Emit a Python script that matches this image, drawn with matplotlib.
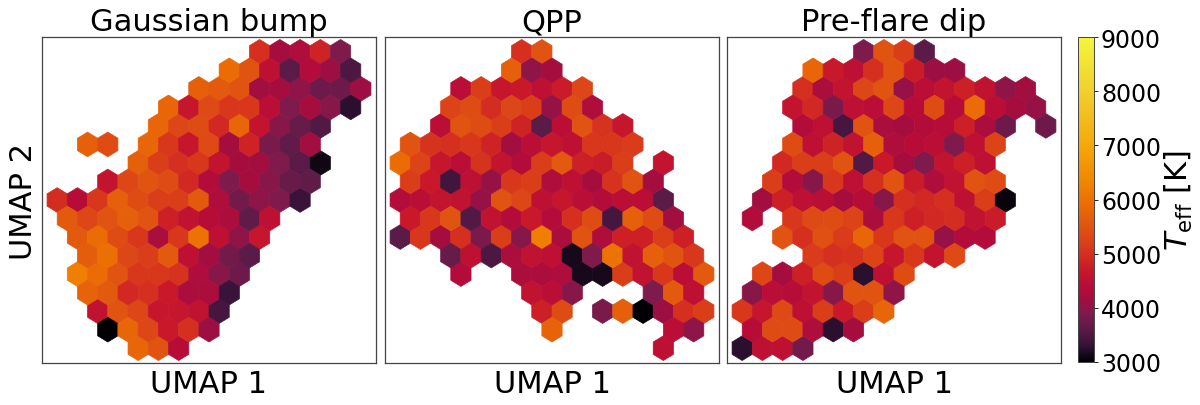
import numpy as np
import matplotlib
matplotlib.use('Agg')
import matplotlib.pyplot as plt
from matplotlib.colors import LinearSegmentedColormap, Normalize

titles = ['Gaussian bump', 'QPP', 'Pre-flare dip']
cbar_ticks = [3000, 4000, 5000, 6000, 7000, 8000, 9000]

# first filled column of each hex row (top row first), in half cell steps
gauss_first = [20, 17, 14, 11, 10, 3, 8, 5, 0, 1, 2, 3, 2, 3, 4, 5, 8]
# mean Teff per hex, row by row from the top, None = empty cell
gauss_teff = [
    [5000, 4200, 4300, 4850, 3900],
    [5900, 5500, 4500, 3600, 4350, 4100, 3500],
    [5700, 5600, 5500, 4150, 4200, 4000, 3750, 3750, 4100],
    [5800, 4650, 5350, 5100, 5100, 4450, 3900, 4200, 3950, 3250],
    [5800, 5300, 5400, 4900, 5800, 4600, 3950, 3700, 3550],
    [5700, 5400, None, 5800, 5100, 4650, 5350, 4200, 4850, 3850, 3650, 4150],
    [5700, 5200, 5000, 5100, 4600, 4200, 4150, 3900, 3600, 3100],
    [4600, 5300, 5500, 5400, 4900, 4350, 3900, 4200, 3950, 3700, 3650],
    [4950, 4400, 5100, 5700, 5400, 5200, 5200, 5600, 4300, 3800, 4000, 3900, 3350],
    [5600, 5300, 5500, 5700, 5500, 4800, 4550, 4400, 4250, 3650, 4500],
    [5600, 5900, 5400, 5100, 4250, 5100, 6000, 4500, 4000, 4650],
    [5650, 5950, 5300, 5200, 5600, 4500, 4150, 3800, 3600],
    [6200, 5900, 5500, 5100, 5100, 5050, 4300, 3950, 3750],
    [5750, 5600, 4900, 5000, 4700, 4250, 4250, 3350],
    [4550, 5500, 5300, 4650, 4650, 4550, 3450],
    [3000, 5800, 5300, 4700, 5000, 4100],
    [5800, 5500, 4400],
]

qpp_first = [12, 11, 6, 5, 4, 1, 0, 1, 0, 1, 0, 5, 6, 13, 14, 15, 26]
qpp_teff = [
    [5000, 5500],
    [5700, 4000, 4200],
    [4450, 5200, 4650, 4700, 4500, 4750, 5300],
    [5250, 5400, 4950, 5300, 5200, 4050, 5400, 4300],
    [4450, 5500, 5400, 5200, 4850, 3600, 4450, 5500, 5050, 4650],
    [5500, 5050, 5000, 5100, 4850, 4150, 4450, 4650, 4500, 5100, 5100, 5150],
    [5900, 5250, 4650, 4450, 5050, 4600, 4350, 5200, 5600, 4800, 4750, 5200, None, 4600],
    [5200, 4700, 3400, 4500, 4050, 5100, 5200, 4300, 4500, 4200, 5050, 5500, 4200],
    [4350, 4450, 4600, 4550, 4050, 5500, 5300, 4500, 4650, 4450, 4350, 4450, 4450, 3600],
    [4700, 5100, 5500, 3550, 4550, 4350, 4700, 4350, 5000, 5400, 3450, 5700, 5400, 4150],
    [3600, 5100, 4200, 5000, 3850, 5200, 3950, 6200, 4250, 5500, 4300, 4800, 4800, 5200, 4800],
    [3700, 4500, 3500, 4250, 4550, 4500, 3150, 3900, 6000, 4550, 5700, 5500, 5100],
    [4350, None, None, 4250, 4250, 4300, 3150, 3150, 5200, 4550, 5100, 4450, 5600],
    [4550, 4450, 3950, None, None, None, 3900, 5600, 4500, 4950],
    [4800, 5400, None, 3850, 5700, 3000, 4100, 5000, 5200],
    [5750, None, None, None, None, None, 4450, 4000],
    [4500],
]

dip_first = [12, 7, 6, 5, 6, 5, 4, 3, 2, 1, 4, 7, 2, 1, 0, 1, 0]
dip_teff = [
    [3900, 5500, 5200, 3600],
    [5800, 4700, 4500, 5000, 5500, 4750, 4100, 4100],
    [5000, 4250, 4600, 5300, 5500, 4050, 4450, 4600, 4800, 4550, 4000, 4150],
    [4600, 4900, 3850, 4500, 4450, 5300, 4400, 5400, 4400, 5900, 4450, 4200, 4050],
    [4350, 4500, 3450, 5500, 4250, 4200, 4350, 4400, 4800, 4250, 3750, None, 3750],
    [5400, 4500, 4850, 4550, 5700, 4300, 4400, 4450, 3900, 4500, 5250],
    [4900, 5200, 5200, 5500, 3550, 4700, 4200, 3900, 4600, 4800, 4500],
    [5200, 4350, 3950, 5100, 4500, 5000, 5500, 4750, 4300, 4550, 5500, 5400],
    [4150, 4800, 4500, 4450, 4200, 4400, 3950, 5000, 4900, 5000, 4500, 5200, 3050],
    [4350, None, 5100, 5350, 5400, 5250, 4250, 5100, 4800, 4900, 4950, 4550, 4750],
    [5500, 5000, 5450, 5150, 5800, 5100, 5500, 5500, 4050, 4350, 4350],
    [5150, 5000, 5050, 5250, 4650, 5100, 4600, 5350],
    [5300, 4200, 4800, 5400, 5200, 3250, 4500, 5400],
    [3950, 4450, 4400, 4600, 3950, 5500, 5500, 4000],
    [5100, 4650, 5350, 4500, 5200, 4700, 5200, 5800],
    [4400, 5400, 5400, 4300, 3250, 4200],
    [3250, 4500, 4500, 3800],
]

# colormap
cmap_levels = [3000, 3300, 3600, 3900, 4100, 4400, 4700, 5000, 5300, 5600, 5900, 6300, 7000, 8000, 9000]
cmap_colors = ['#000004', '#341238', '#5a1b48', '#801a4c', '#9e0e42', '#b80c38', '#c8182a', '#d5301f',
               '#dd4616', '#e35a0e', '#eb6c04', '#f08400', '#f5a80a', '#f0cf30', '#f5f53c']
vmin, vmax = cmap_levels[0], cmap_levels[-1]
cmap = LinearSegmentedColormap.from_list(
    'teff', [((v - vmin) / (vmax - vmin), c) for v, c in zip(cmap_levels, cmap_colors)], N=512)
norm = Normalize(vmin=vmin, vmax=vmax)


def to_points(first, teff):
    # turn the rows into x, y, C for hexbin
    x, y, c = [], [], []
    for r, row in enumerate(teff):
        for i, val in enumerate(row):
            if val is None:
                continue
            x.append((first[r] + 2 * i) / 2)
            y.append((len(teff) - 1 - r) / 2)
            c.append(val)
    return np.array(x), np.array(y), np.array(c, dtype=float)


W, H = 1200, 406
fig = plt.figure(figsize=(W / 100, H / 100), dpi=100)

lefts = [42, 385, 727]
panels = [(gauss_first, gauss_teff), (qpp_first, qpp_teff), (dip_first, dip_teff)]
for left, (first, teff), title in zip(lefts, panels, titles):
    ax = fig.add_axes([left / W, 1 - 364 / H, 334 / W, 326 / H])
    x, y, c = to_points(first, teff)
    hb = ax.hexbin(x, y, C=c, gridsize=15, extent=(0, 15, 0, 8), cmap=cmap, norm=norm, linewidths=0.5)
    ax.set_xlim(-0.75, 15.75)
    ax.set_ylim(-0.4, 8.4)
    ax.set_xticks([])
    ax.set_yticks([])
    ax.set_xlabel('UMAP 1', fontsize=22, labelpad=4)
    ax.set_title(title, fontsize=22, pad=5)
    for s in ax.spines.values():
        s.set_linewidth(0.9)
        s.set_color('#444444')
    if left == lefts[0]:
        ax.set_ylabel('UMAP 2', fontsize=22, labelpad=3)

cax = fig.add_axes([1078 / W, 1 - 363 / H, 16 / W, 325 / H])
cb = fig.colorbar(hb, cax=cax)
cb.set_ticks(cbar_ticks)
cb.ax.tick_params(labelsize=17, length=3, width=0.6, pad=2)
cb.set_label(r'$T_{\rm eff}$ [K]', fontsize=22, labelpad=1)
cb.outline.set_linewidth(0.7)
cb.outline.set_edgecolor('#444444')

fig.savefig('out.png', dpi=100)
